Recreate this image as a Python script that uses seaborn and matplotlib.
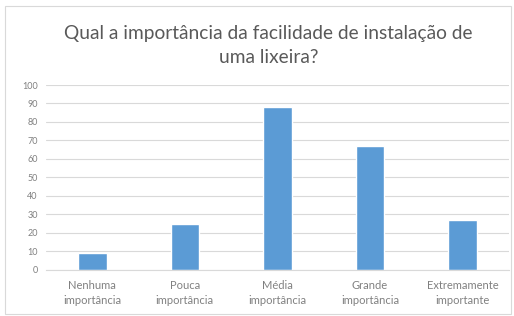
import matplotlib
matplotlib.use('Agg')
import matplotlib.pyplot as plt
import seaborn as sns
import pandas as pd

# Survey answers
categories = ['Nenhuma\nimportância', 'Pouca\nimportância', 'Média\nimportância',
              'Grande\nimportância', 'Extremamente\nimportante']
counts = [9, 25, 88, 67, 27]
y_ticks = list(range(0, 101, 10))

df = pd.DataFrame({'categoria': categories, 'respostas': counts})

sns.set_style('white')
plt.rcParams['font.family'] = ['Lato', 'DejaVu Sans']

fig = plt.figure(figsize=(5.14, 3.16), dpi=100)
ax = fig.add_axes([0.0895, 0.146, 0.9005, 0.585])

sns.barplot(data=df, x='categoria', y='respostas', color='#5B9BD5',
            width=0.31, saturation=1, ax=ax)

ax.set_ylim(0, 100)
ax.set_yticks(y_ticks)
ax.yaxis.grid(True, color='#D9D9D9', linewidth=0.8)
ax.set_axisbelow(True)
ax.set_xlabel('')
ax.set_ylabel('')
for s in ['top', 'right', 'left']:
    ax.spines[s].set_visible(False)
ax.spines['bottom'].set_color('#D9D9D9')
ax.tick_params(axis='y', length=0, labelsize=6.5, colors='#808080', pad=6)
ax.tick_params(axis='x', length=0, labelsize=8, colors='#808080', pad=7)
for lbl in ax.get_xticklabels():
    lbl.set_linespacing(1.5)

fig.text(0.522, 0.855, 'Qual a importância da facilidade de instalação de\numa lixeira?',
         ha='center', va='center', fontsize=13.8, color='#595959', linespacing=1.5)

# light frame around the chart
fig.patches.append(plt.Rectangle((0.01, 0.005), 0.985, 0.975, transform=fig.transFigure,
                                 fill=False, edgecolor='#D9D9D9', linewidth=0.8))

fig.savefig('out.png', dpi=100)
